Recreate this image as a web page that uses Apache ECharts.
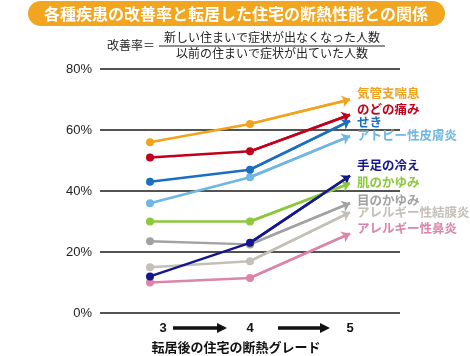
<!DOCTYPE html>
<html><head><meta charset="utf-8">
<script src="https://cdn.jsdelivr.net/npm/echarts@6/dist/echarts.min.js"></script>
<style>html,body{margin:0;padding:0;background:#fff}#c{width:470px;height:356px}</style>
</head><body><div id="c"></div>
<script>
const grades = ['3', '4', '5'];
const yTicks = [0, 20, 40, 60, 80];
const names = ['気管支喘息', 'のどの痛み', 'せき', 'アトピー性皮膚炎', '手足の冷え', '肌のかゆみ', '目のかゆみ', 'アレルギー性結膜炎', 'アレルギー性鼻炎'];
const asthma = [56, 62, 70];
const throat = [51, 53, 65];
const cough = [43, 47, 63];
const atopy = [36, 44.5, 58];
const coldHands = [12, 23, 45];
const skinItch = [30, 30, 42.5];
const eyeItch = [23.5, 22.5, 36];
const conjunctivitis = [15, 17, 33];
const rhinitis = [10, 11.5, 26];
const values = [asthma, throat, cough, atopy, coldHands, skinItch, eyeItch, conjunctivitis, rhinitis];
const colors = ['#f3a21c', '#c2001b', '#1b6fc2', '#6fb6e2', '#16168e', '#8cc83c', '#a2a2a2', '#c4c0b8', '#dc85aa'];
const labelOffsets = [[0, -6], [0, -6], [0, 1], [0, -1], [0, -11], [0, -1], [0, -3], [0, 0], [0, -5]];

const chart = echarts.init(document.getElementById('c'));
const font = '"Noto Sans CJK JP", "Noto Sans", sans-serif';
const series = names.map((n, i) => {
  const d = values[i];
  const last = d.length - 1;
  return {
    name: n,
    type: 'line',
    data: d.map((v, j) => j === last ? { value: v, symbol: 'none' } : v),
    symbol: 'circle',
    symbolSize: 8,
    lineStyle: { color: colors[i], width: 2.5 },
    itemStyle: { color: colors[i] },
    z: 10 - i,
    animation: false,
    endLabel: {
      show: true,
      formatter: '{a}',
      color: colors[i],
      fontWeight: 'bold',
      fontSize: 12.5,
      fontFamily: font,
      distance: 7,
      offset: labelOffsets[i]
    },
    markLine: {
      silent: true,
      animation: false,
      symbol: ['none', 'arrow'],
      symbolSize: [9, 8],
      label: { show: false },
      lineStyle: { color: colors[i], width: 2.5, type: 'solid' },
      data: [[{ coord: [last - 1, d[last - 1]] }, { coord: [last, d[last]] }]]
    }
  };
});

chart.setOption({
  backgroundColor: '#fff',
  animation: false,
  grid: { left: 100, width: 300, top: 69, height: 244, containLabel: false, outerBoundsMode: 'none' },
  xAxis: {
    type: 'category',
    data: grades,
    boundaryGap: true,
    axisLine: { show: false },
    axisTick: { show: false },
    axisLabel: {
      margin: 9,
      fontSize: 13,
      fontWeight: 'bold',
      color: '#111',
      fontFamily: 'Liberation Sans, Arial, sans-serif',
      formatter: (v) => v === grades[0] ? '{s|' + v + '}' : v,
      rich: { s: { padding: [0, 0, 0, 26], fontSize: 13, fontWeight: 'bold', color: '#111', fontFamily: 'Liberation Sans, Arial, sans-serif' } }
    },
    name: '転居後の住宅の断熱グレード',
    nameLocation: 'middle',
    nameGap: 28,
    nameTextStyle: { fontSize: 13, fontWeight: 'bold', color: '#111', fontFamily: font, padding: [0, 28, 0, 0] }
  },
  yAxis: {
    type: 'value',
    min: yTicks[0],
    max: yTicks[yTicks.length - 1],
    interval: 20,
    axisLine: { show: false },
    axisTick: { show: false },
    axisLabel: { formatter: '{value}%', fontSize: 13, color: '#222', margin: 8, fontFamily: 'Liberation Sans, Arial, sans-serif' },
    splitLine: { lineStyle: { color: '#1a1a1a', width: 1.5 } }
  },
  graphic: [
    { type: 'rect', shape: { x: 28, y: 1, width: 417, height: 25, r: 12.5 }, style: { fill: '#f2a51e' } },
    { type: 'text', x: 236, y: 13.5, style: { text: '各種疾患の改善率と転居した住宅の断熱性能との関係', fill: '#fff', fontSize: 16, fontWeight: 'bold', fontFamily: font, align: 'center', verticalAlign: 'middle' } },
    { type: 'text', x: 155, y: 45, style: { text: '改善率＝', fill: '#222', fontSize: 12, fontFamily: font, align: 'right', verticalAlign: 'middle' } },
    { type: 'text', x: 272, y: 37, style: { text: '新しい住まいで症状が出なくなった人数', fill: '#222', fontSize: 12, fontFamily: font, align: 'center', verticalAlign: 'middle' } },
    { type: 'line', shape: { x1: 159, y1: 46, x2: 385, y2: 46 }, style: { stroke: '#222', lineWidth: 1 } },
    { type: 'text', x: 272, y: 53, style: { text: '以前の住まいで症状が出ていた人数', fill: '#222', fontSize: 12, fontFamily: font, align: 'center', verticalAlign: 'middle' } },
    { type: 'line', shape: { x1: 173, y1: 328, x2: 220, y2: 328 }, style: { stroke: '#111', lineWidth: 3.5 } },
    { type: 'polygon', shape: { points: [[217, 323], [227, 328], [217, 333]] }, style: { fill: '#111' } },
    { type: 'line', shape: { x1: 278, y1: 328, x2: 323, y2: 328 }, style: { stroke: '#111', lineWidth: 3.5 } },
    { type: 'polygon', shape: { points: [[320, 323], [330, 328], [320, 333]] }, style: { fill: '#111' } }
  ],
  series: series
});
</script></body></html>
